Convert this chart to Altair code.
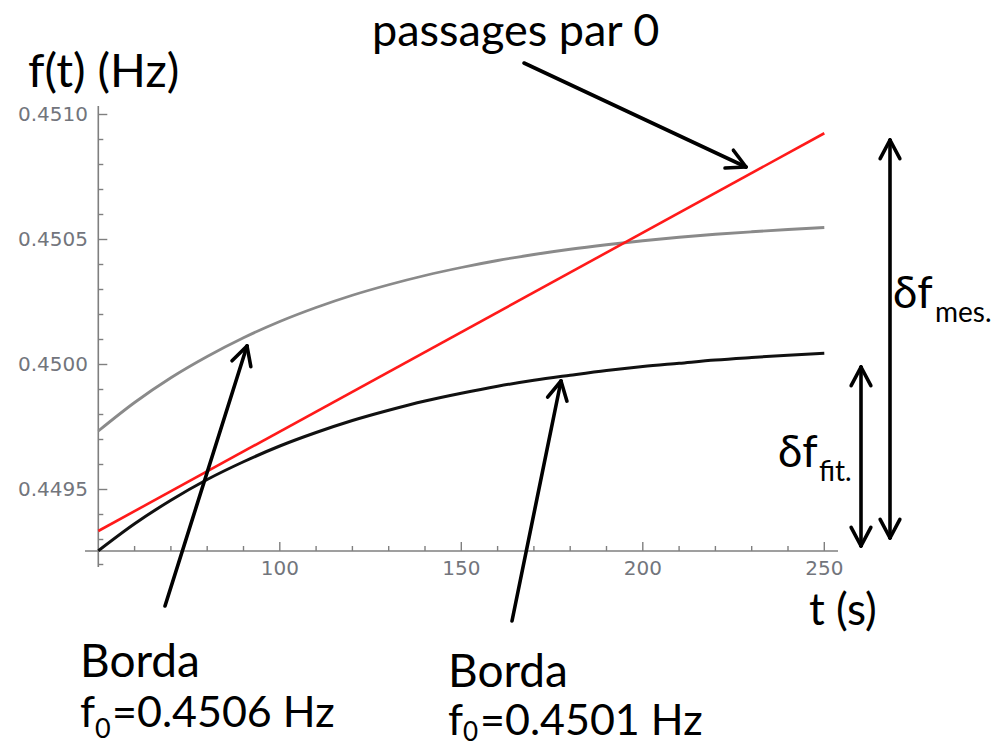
import math
import altair as alt
import pandas as pd

# ---------------- data ----------------
t_read = [50, 60, 70, 80, 90, 100, 110, 120, 130, 140, 150,
          160, 170, 180, 190, 200, 210, 220, 230, 240, 250]
gray_f = [0.449734, 0.449848, 0.449947, 0.450032, 0.450107, 0.450172, 0.450228,
          0.450277, 0.450319, 0.450356, 0.450388, 0.450416, 0.450440, 0.450461,
          0.450479, 0.450495, 0.450509, 0.450521, 0.450531, 0.450540, 0.450548]
black_f = [0.449255, 0.449363, 0.449457, 0.449540, 0.449611, 0.449674, 0.449728,
           0.449776, 0.449817, 0.449854, 0.449885, 0.449913, 0.449937, 0.449957,
           0.449976, 0.449992, 0.450005, 0.450018, 0.450028, 0.450037, 0.450045]
red_t = [50, 250]
red_f = [0.449334, 0.450925]

y_major = [0.4495, 0.4500, 0.4505, 0.4510]
y_major_labels = ["0.4495", "0.4500", "0.4505", "0.4510"]
y_minor = [0.4492, 0.4493, 0.4494, 0.4496, 0.4497, 0.4498, 0.4499,
           0.4501, 0.4502, 0.4503, 0.4504, 0.4506, 0.4507, 0.4508, 0.4509]
x_major = [100, 150, 200, 250]
x_major_labels = ["100", "150", "200", "250"]
x_minor = [60, 70, 80, 90, 110, 120, 130, 140, 160, 170, 180, 190,
           210, 220, 230, 240]
x_origin = 50
y_origin = 0.449254

# ---------------- geometry of the canvas ----------------
W, H = 999, 747
X0PX, PX_PER_T, T0 = 98.3, 3.63, 50.0
Y_REF_PX, PX_PER_F, F_REF = 114.5, 250000.0, 0.4510


def t_of(px):
    return T0 + (px - X0PX) / PX_PER_T


def f_of(py):
    return F_REF - (py - Y_REF_PX) / PX_PER_F


XS = alt.Scale(domain=[t_of(0), t_of(W)], nice=False, zero=False)
YS = alt.Scale(domain=[f_of(H), f_of(0)], nice=False, zero=False)


def X(field):
    return alt.X(field, type="quantitative", scale=XS, axis=None)


def Y(field):
    return alt.Y(field, type="quantitative", scale=YS, axis=None)


# ---------------- curves ----------------
curves = pd.DataFrame({"t": t_read, "gray": gray_f, "black": black_f})
red_df = pd.DataFrame({"t": red_t, "f": red_f})

gray_line = alt.Chart(curves).mark_line(
    color="#8a8a8a", strokeWidth=2.8, interpolate="monotone"
).encode(x=X("t"), y=Y("gray"))
black_line = alt.Chart(curves).mark_line(
    color="#111111", strokeWidth=3, interpolate="monotone"
).encode(x=X("t"), y=Y("black"))
red_line = alt.Chart(red_df).mark_line(
    color="#ff1a1a", strokeWidth=2.6
).encode(x=X("t"), y=Y("f"))

# ---------------- axes (Mathematica style, drawn by hand) ----------------
AX_COL = "#7f7f7f"
axes_df = pd.DataFrame({
    "x": [t_of(85), x_origin],
    "x2": [t_of(838), x_origin],
    "y": [y_origin, f_of(106)],
    "y2": [y_origin, f_of(567)],
})
axes = alt.Chart(axes_df).mark_rule(color=AX_COL, strokeWidth=1.6).encode(
    x=X("x"), x2="x2", y=Y("y"), y2="y2")

ytick_df = pd.DataFrame({
    "f": y_major + y_minor,
    "len": [9] * len(y_major) + [5] * len(y_minor),
})
ytick_df["x"] = x_origin
ytick_df["x2"] = x_origin + ytick_df["len"] / PX_PER_T
yticks = alt.Chart(ytick_df).mark_rule(color=AX_COL, strokeWidth=1.4).encode(
    x=X("x"), x2="x2", y=Y("f"))

xtick_df = pd.DataFrame({
    "t": x_major + x_minor,
    "len": [9] * len(x_major) + [5] * len(x_minor),
})
xtick_df["y"] = y_origin
xtick_df["y2"] = y_origin + xtick_df["len"] / PX_PER_F
xticks = alt.Chart(xtick_df).mark_rule(color=AX_COL, strokeWidth=1.4).encode(
    x=X("t"), y=Y("y"), y2="y2")

TICK_FONT = "DejaVu Sans"
TICK_COL = "#72757c"
ylab_df = pd.DataFrame({"f": y_major, "lab": y_major_labels})
ylabels = alt.Chart(ylab_df).mark_text(
    align="right", baseline="middle", font=TICK_FONT, size=20, color=TICK_COL
).encode(x=alt.value(88), y=Y("f"), text="lab:N")

xlab_df = pd.DataFrame({"t": x_major, "lab": x_major_labels})
xlabels = alt.Chart(xlab_df).mark_text(
    align="center", baseline="middle", font=TICK_FONT, size=20, color=TICK_COL
).encode(x=X("t"), y=alt.value(569), text="lab:N")

# ---------------- arrows ----------------
ARM, HALF = 21.0, math.radians(28)
arrow_defs = [  # (start px, tip px, double headed)
    ((524, 63), (746, 167), False),
    ((165, 606), (247, 346), False),
    ((512, 621), (561, 381), False),
    ((890, 538), (890, 140), True),
    ((861, 546), (861, 367), True),
]
segs = []


def head(tip, frm):
    ang = math.atan2(frm[1] - tip[1], frm[0] - tip[0])
    out = []
    for s in (-1, 1):
        a = ang + s * HALF
        out.append((tip, (tip[0] + ARM * math.cos(a), tip[1] + ARM * math.sin(a))))
    return out


for p0, p1, dbl in arrow_defs:
    segs.append((p0, p1))
    segs += head(p1, p0)
    if dbl:
        segs += head(p0, p1)

arrow_df = pd.DataFrame({
    "x": [t_of(a[0]) for a, b in segs],
    "y": [f_of(a[1]) for a, b in segs],
    "x2": [t_of(b[0]) for a, b in segs],
    "y2": [f_of(b[1]) for a, b in segs],
})
arrows = alt.Chart(arrow_df).mark_rule(
    color="black", strokeWidth=3.6, strokeCap="round"
).encode(x=X("x"), x2="x2", y=Y("y"), y2="y2")

# ---------------- annotation texts ----------------
FONT = "Lato, Noto Sans, DejaVu Sans"
texts = [
    ("f(t) (Hz)", 28, 87, 47),
    ("passages par 0", 372, 46, 45),
    ("t (s)", 809, 625, 44),
    ("Borda", 80, 677, 46),
    ("f", 80, 727, 43), ("0", 95, 738, 27), ("=0.4506 Hz", 112, 727, 43),
    ("Borda", 448, 687, 46),
    ("f", 448, 735, 43), ("0", 463, 741, 26), ("=0.4501 Hz", 480, 735, 43),
    ("δf", 893, 308, 44), ("mes.", 935, 322, 28),
    ("δf", 778, 467, 44), ("fit.", 819, 481, 28),
]
text_df = pd.DataFrame({
    "txt": [t[0] for t in texts],
    "x": [t_of(t[1]) for t in texts],
    "y": [f_of(t[2]) for t in texts],
    "size": [t[3] for t in texts],
})
labels = alt.Chart(text_df).mark_text(
    align="left", baseline="alphabetic", font=FONT, color="black"
).encode(x=X("x"), y=Y("y"), text="txt:N",
         size=alt.Size("size:Q", scale=None, legend=None))

chart = alt.layer(
    axes, yticks, xticks, ylabels, xlabels,
    gray_line, black_line, red_line, arrows, labels
).properties(
    width=W, height=H, padding=0,
    autosize=alt.AutoSizeParams(type="none"),
    background="white",
).configure_view(strokeWidth=0)

chart.save("out.html", embed_options={"renderer": "svg", "actions": False})
